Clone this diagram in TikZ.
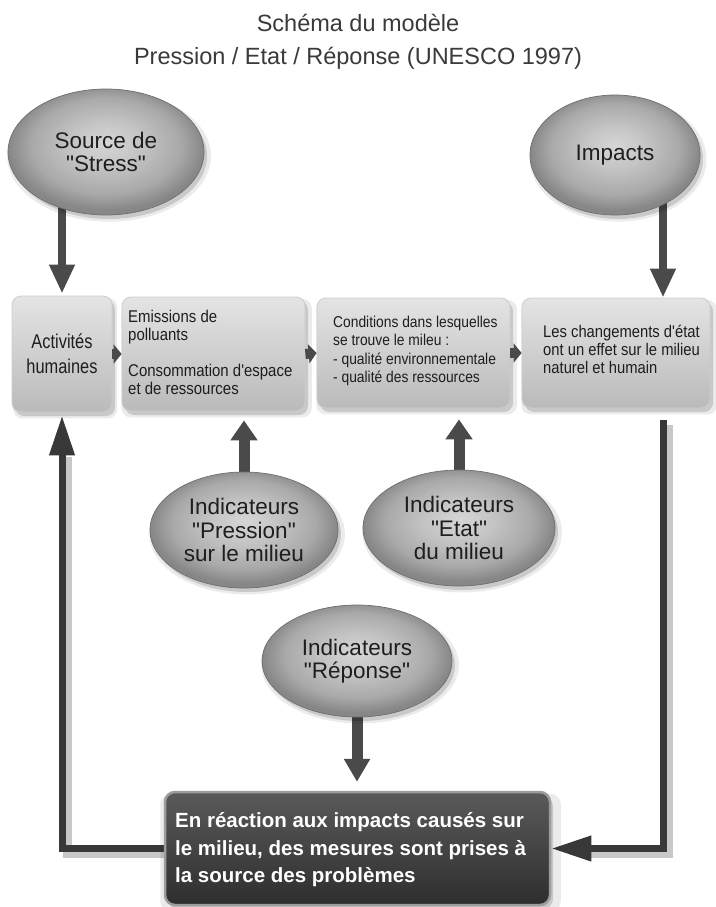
\documentclass[tikz,border=0pt]{standalone}
\usepackage{fontspec}
\setmainfont{Liberation Sans}[Ligatures=TeXOff]
\newfontfamily\narrowfont[FakeStretch=0.88,Ligatures=TeXOff]{Liberation Sans}
\newfontfamily\narrowerfont[FakeStretch=0.82,Ligatures=TeXOff]{Liberation Sans}
\usetikzlibrary{shapes.geometric,arrows.meta,shadows,calc}
\pgfdeclarelayer{bg}
\pgfsetlayers{bg,main}
\newcommand\qq{\char34\relax}
\definecolor{arrgray}{HTML}{4A4A4A}
\definecolor{loopgray}{HTML}{383838}
\definecolor{txtdark}{HTML}{1E1E1E}
\definecolor{ttlcol}{HTML}{3A3A3A}
\definecolor{ellA}{HTML}{D6D6D6}
\definecolor{ellB}{HTML}{C4C4C4}
\definecolor{ellC}{HTML}{A9A9A9}
\definecolor{ellD}{HTML}{878787}
\definecolor{ellEdge}{HTML}{6E6E6E}
\definecolor{boxtop}{HTML}{E4E4E4}
\definecolor{boxbot}{HTML}{BABABA}
\definecolor{boxedge}{HTML}{CDCDCD}
\definecolor{dtop}{HTML}{5A5A5A}
\definecolor{dbot}{HTML}{2E2E2E}
\definecolor{dedge}{HTML}{9C9C9C}
\definecolor{shadowline}{HTML}{C8C8C8}
\pgfdeclareradialshading{ellshade}{\pgfpoint{0bp}{4bp}}{color(0bp)=(ellA); color(9bp)=(ellB); color(19bp)=(ellC); color(25bp)=(ellD); color(50bp)=(ellD)}
\begin{document}
\begin{tikzpicture}[x=1pt,y=-1pt,
  softshadow/.style={
    general shadow={fill=black, opacity=0.08, shadow xshift=3pt, shadow yshift=-4pt, shadow scale=1.04},
    general shadow={fill=black, opacity=0.14, shadow xshift=3pt, shadow yshift=-4pt}},
  ttl/.style={font=\fontsize{23.5}{26}\selectfont, text=ttlcol, inner sep=0},
  ell/.style={ellipse, shading=ellshade, draw=ellEdge, line width=0.7pt, inner sep=0, softshadow,
    align=center, text=txtdark, font=\fontsize{22.5}{23.5}\selectfont},
  box/.style={rectangle, rounded corners=9pt, top color=boxtop, bottom color=boxbot, draw=boxedge, line width=0.8pt, softshadow},
  btxt/.style={inner sep=0, align=left, text=txtdark},
  darkbox/.style={rectangle, rounded corners=10pt, top color=dtop, bottom color=dbot, draw=dedge, line width=2.5pt, softshadow},
  darktxt/.style={inner sep=0, align=left, text=white, font=\bfseries\fontsize{20.5}{27.5}\selectfont},
  dn/.style={draw=arrgray, line width=8pt, -{Triangle[length=29pt,width=24pt]}},
  upar/.style={draw=arrgray, line width=11pt, -{Triangle[length=20pt,width=26pt]}},
  dnr/.style={draw=arrgray, line width=11pt, -{Triangle[length=23pt,width=25pt]}},
  sm/.style={draw=arrgray, line width=10pt, -{Triangle[length=8pt,width=19pt]}},
  fb/.style={draw=loopgray, line width=7pt, -{Triangle[length=40pt,width=24pt]}},
  fbshadow/.style={draw=shadowline, line width=9pt}
]
\begin{pgfonlayer}{bg}
\fill[white] (0,0) rectangle (715,907);
\end{pgfonlayer}
\useasboundingbox (0,0) rectangle (715,907);

% title
\node[ttl, anchor=base] (t1) at (358,32) {Schéma du modèle};
\node[ttl, anchor=base] (t2) at (358,64) {Pression / Etat / Réponse (UNESCO 1997)};

% ellipses
\node[ell, minimum width=196pt, minimum height=126pt] (src) at (106,152) {Source de\\\qq Stress\qq};
\node[ell, minimum width=170pt, minimum height=120pt] (imp) at (615,155) {Impacts};
\node[ell, minimum width=188pt, minimum height=116pt] (pres) at (244,530) {Indicateurs\\\qq Pression\qq\\sur le milieu};
\node[ell, minimum width=192pt, minimum height=116pt] (etat) at (459,528) {Indicateurs\\\qq Etat\qq\\du milieu};
\node[ell, minimum width=190pt, minimum height=112pt] (rep) at (357,661) {Indicateurs\\\qq Réponse\qq};

% boxes
\node[box, minimum width=100pt, minimum height=116pt, align=center, text=txtdark,
      font=\narrowerfont\fontsize{20}{25}\selectfont] (act) at (62,354) {Activités\\humaines};
\node[box, minimum width=183pt, minimum height=114pt] (emi) at (213.5,354) {};
\node[box, minimum width=193pt, minimum height=110pt] (con) at (413.5,353) {};
\node[box, minimum width=188pt, minimum height=110pt] (chg) at (616,353) {};

\node[btxt, anchor=west, font=\narrowfont\fontsize{17}{18}\selectfont] (emi-t) at (128,352)
  {Emissions de\\polluants\\[18pt]Consommation d'espace\\et de ressources};
\node[btxt, anchor=west, font=\narrowfont\fontsize{15.7}{18.5}\selectfont] (con-t) at (333,351)
  {Conditions dans lesquelles\\se trouve le mileu :\\- qualité environnementale\\- qualité des ressources};
\node[btxt, anchor=west, font=\narrowfont\fontsize{16.8}{18}\selectfont] (chg-t) at (543,349)
  {Les changements d'état\\ont un effet sur le milieu\\naturel et humain};

% response box
\node[darkbox, minimum width=385pt, minimum height=113pt] (dark) at (357.5,848.5) {};
\node[darktxt, anchor=west] (dark-t) at (175,850)
  {En réaction aux impacts causés sur\\le milieu, des mesures sont prises à\\la source des problèmes};

% small arrows between boxes
\draw[sm] (act.east) -- (emi.west);
\draw[sm] (emi.east) -- (con.west);
\draw[sm] (con.east) -- (chg.west);

\coordinate (rt) at (663,420);
\begin{pgfonlayer}{bg}
% soft shadows of the feedback lines
\draw[fbshadow] ([shift={(5,5)}]dark.west) -| ([shift={(5,45)}]act.south);
\draw[fbshadow] ([shift={(5,5)}]rt) |- ([shift={(40,5)}]dark.east);
% arrows
\draw[dn] (act.north |- src.center) -- ($(act.north)+(0,-2)$);
\draw[dn] (rt |- imp.center) -- (rt |- chg.north);
\draw[upar] (pres.center) -- ($(pres.center |- emi.south)+(0,9)$);
\draw[upar] (etat.center) -- ($(etat.center |- con.south)+(0,11)$);
\draw[dnr] (rep.center) -- ($(rep.center |- dark.north)+(0,-9)$);
\draw[fb] (dark.west) -| ($(act.south)+(0,3)$);
\draw[fb] (rt) |- (dark.east);
\end{pgfonlayer}
\end{tikzpicture}
\end{document}
